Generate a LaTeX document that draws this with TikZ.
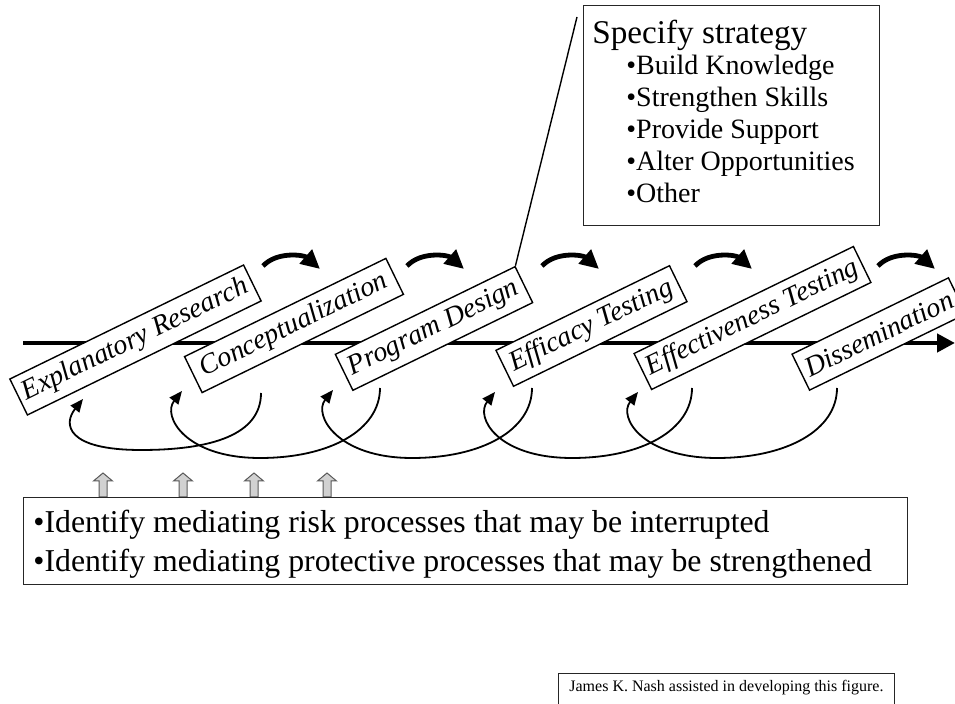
\documentclass[tikz,border=0pt]{standalone}
\usepackage{fontspec}
\setmainfont{Liberation Serif}
\usetikzlibrary{arrows.meta}

\tikzset{
    stage/.style={draw=black, line width=0.7pt, fill=white, rotate=26, minimum height=20pt, inner sep=2pt, font=\fontsize{14}{16}\selectfont\itshape},
    timeline/.style={black, line width=2.2pt, -{Triangle[length=9pt,width=9pt]}},
    nextstep/.style={black, line width=2.4pt, -{Triangle[length=9.5pt,width=9pt]}},
    feedback/.style={black, line width=0.9pt, -{Triangle[length=6.5pt,width=5.5pt]}},
    infobox/.style={draw=black!85, line width=0.7pt},
    upmark/.style={draw=black!65, fill=black!18, line width=0.5pt},
    plain/.style={anchor=base west, inner sep=0pt}
}

\begin{document}
\begin{tikzpicture}[x=0.5pt, y=-0.5pt]
        \useasboundingbox (0,0) rectangle (955,704);
        \clip (0,0) rectangle (955,704);

        \coordinate (origin) at (23,343);
        \coordinate (horizon) at (955,343);
        \draw [timeline] (origin) -- (horizon);

        \node [stage, minimum width=130pt] (expl) at (135.5,340) {Explanatory Research};
        \node [stage, minimum width=112pt] (concept) at (294,325.5) {Conceptualization};
        \node [stage, minimum width=100pt] (design) at (434,328.5) {Program Design};
        \node [stage, minimum width=96.5pt] (efficacy) at (591.5,326) {Efficacy Testing};
        \node [stage, minimum width=122pt] (effect) at (752.5,318) {Effectiveness Testing};
        \node [stage, minimum width=87pt] (dissem) at (879,334) {Dissemination};

        \foreach \x [count=\i] in {263,407,542,695,878} {
            \coordinate (from\i) at (\x,266);
            \coordinate (to\i) at ({\x+57},269);
            \draw [nextstep] (from\i) .. controls +(14,-15) and +(-16,-14) .. (to\i);
        }

        \foreach \s/\t/\ys/\yt/\dy [count=\i] in {261/83/393/399/57, 380/182/388/391/70, 532/333/388/390/70, 692/495/388/392/70, 837/638/388/392/70} {
            \coordinate (back\i) at (\s,\ys);
            \coordinate (into\i) at (\t,\yt);
            \draw [feedback] (back\i) .. controls +(0,42) and +(70,0) .. +(-120,\dy) .. controls +(-75,0) and +(-20,25) .. (into\i);
        }

        % strategy call-out
        \node [infobox, anchor=north west, minimum width=148pt, minimum height=110pt] (strategy) at (583,5) {};
        \coordinate (tail) at (577,17);
        \draw [black, line width=0.7pt] (design.north east) -- (tail);
        \node [plain, font=\fontsize{16.6}{19}\selectfont] (strategyhead) at (592,44) {Specify strategy};
        \foreach \txt [count=\i] in {Build Knowledge, Strengthen Skills, Provide Support, Alter Opportunities, Other} {
            \node [plain, font=\fontsize{14}{16}\selectfont] (item\i) at (626,{43+32*\i}) {\textbullet\txt};
        }

        % mediating processes
        \foreach \x [count=\i] in {103,183,254,327} {
            \draw [upmark] ({\x-4},497) -- ({\x-4},481) -- ({\x-9.5},481) -- (\x,473) -- ({\x+9.5},481) -- ({\x+4},481) -- ({\x+4},497) -- cycle;
        }
        \node [infobox, anchor=north west, minimum width=442pt, minimum height=43.5pt] (mediators) at (23,497) {};
        \node [plain, font=\fontsize{15.9}{19}\selectfont] (risk) at (33,533) {\textbullet Identify mediating risk processes that may be interrupted};
        \node [plain, font=\fontsize{15.9}{19}\selectfont] (protect) at (33,572) {\textbullet Identify mediating protective processes that may be strengthened};

        \node [infobox, anchor=north west, minimum width=168pt, minimum height=30pt] (credit) at (558,673) {};
        \node [plain, font=\fontsize{8}{10}\selectfont] (credittext) at (569,692) {James K. Nash assisted in developing this figure.};
    \end{tikzpicture}
\end{document}
